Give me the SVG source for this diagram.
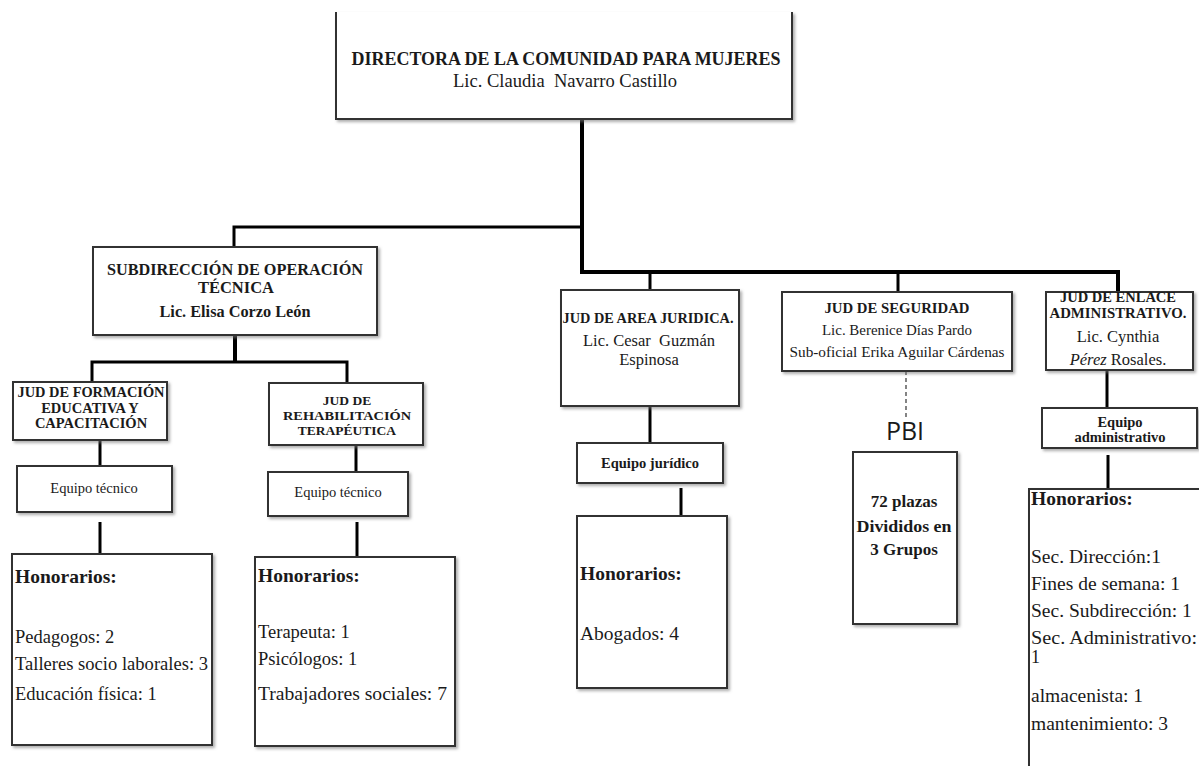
<svg xmlns="http://www.w3.org/2000/svg" width="1199" height="766" viewBox="0 0 1199 766">
<defs>
<filter id="sh" x="-10%" y="-10%" width="130%" height="130%">
<feDropShadow dx="2" dy="2" stdDeviation="1.5" flood-color="#777" flood-opacity="0.6"/>
</filter>
<style>
.box{fill:#fff;stroke:#333;stroke-width:2;filter:url(#sh)}
.c{stroke:#000;fill:none;stroke-width:3}
.ct{stroke:#000;fill:none;stroke-width:4}
.dash{stroke:#333;fill:none;stroke-width:1.2;stroke-dasharray:4 3}
text{font-family:"Liberation Serif","Times New Roman",serif;fill:#1a1a1a}
.b{font-weight:bold}
.m{text-anchor:middle}
</style>
</defs>
<rect width="1199" height="766" fill="#fff"/>

<g id="connectors">
<path class="ct" d="M582,119 V272 H1118 V292"/>
<path class="c" d="M582,227 H234 V247"/>
<path class="c" d="M650,272 V290"/>
<path class="c" d="M898,272 V292"/>
<path class="ct" d="M235,335 V362"/>
<path class="c" d="M92,382 V362 H347 V383"/>
<path class="c" d="M100,440 V466"/>
<path class="c" d="M100,522 V565"/>
<path class="c" d="M356,445 V472"/>
<path class="c" d="M357,522 V568"/>
<path class="c" d="M650,406 V443"/>
<path class="c" d="M681,488 V523"/>
<path class="dash" d="M906,371 V417"/>
<path class="c" d="M1107,365 V408"/>
<path class="c" d="M1108,455 V490"/>
</g>

<g id="directora">
<path d="M336,12 V119 H792 V12" fill="#fff" stroke="#333" stroke-width="2" filter="url(#sh)"/>
<text x="566" y="65" class="b m" font-size="19" textLength="429" lengthAdjust="spacingAndGlyphs">DIRECTORA DE LA COMUNIDAD PARA MUJERES</text>
<text x="565" y="87" class="m" font-size="18" xml:space="preserve" textLength="224" lengthAdjust="spacingAndGlyphs">Lic. Claudia  Navarro Castillo</text>
</g>

<g id="subdireccion">
<rect class="box" x="93" y="247" width="284" height="88"/>
<text x="235" y="275" class="b m" font-size="16.5" textLength="256" lengthAdjust="spacingAndGlyphs">SUBDIRECCIÓN DE OPERACIÓN</text>
<text x="236" y="293" class="b m" font-size="16.5">TÉCNICA</text>
<text x="235" y="317" class="b m" font-size="17" textLength="151" lengthAdjust="spacingAndGlyphs">Lic. Elisa Corzo León</text>
</g>

<g id="jud-formacion">
<rect class="box" x="13" y="382" width="154" height="58"/>
<text x="91" y="397" class="b m" font-size="14.5" textLength="147" lengthAdjust="spacingAndGlyphs">JUD DE FORMACIÓN</text>
<text x="90" y="413" class="b m" font-size="14.5">EDUCATIVA Y</text>
<text x="91" y="428" class="b m" font-size="14.5">CAPACITACIÓN</text>
</g>

<g id="equipo-tecnico-1">
<rect class="box" x="17" y="466" width="155" height="46"/>
<text x="94" y="493" class="m" font-size="14.5">Equipo técnico</text>
</g>

<g id="honorarios-1">
<rect class="box" x="12" y="554" width="200" height="191"/>
<text x="15" y="583" class="b" font-size="19.5">Honorarios:</text>
<text x="15" y="643" font-size="18.5">Pedagogos: 2</text>
<text x="15" y="670" font-size="18.5" textLength="193" lengthAdjust="spacingAndGlyphs">Talleres socio laborales: 3</text>
<text x="15" y="700" font-size="18.5">Educación física: 1</text>
</g>

<g id="jud-rehabilitacion">
<rect class="box" x="269" y="383" width="154" height="62"/>
<text x="347" y="405" class="b m" font-size="13.5">JUD DE</text>
<text x="347" y="420" class="b m" font-size="13.5" textLength="128" lengthAdjust="spacingAndGlyphs">REHABILITACIÓN</text>
<text x="347" y="435" class="b m" font-size="13.5">TERAPÉUTICA</text>
</g>

<g id="equipo-tecnico-2">
<rect class="box" x="268" y="472" width="140" height="44"/>
<text x="338" y="497" class="m" font-size="14.5">Equipo técnico</text>
</g>

<g id="honorarios-2">
<rect class="box" x="255" y="557" width="200" height="189"/>
<text x="258" y="582" class="b" font-size="19.5">Honorarios:</text>
<text x="258" y="638" font-size="18.5">Terapeuta: 1</text>
<text x="258" y="665" font-size="18.5">Psicólogos: 1</text>
<text x="258" y="700" font-size="18.5" textLength="189" lengthAdjust="spacingAndGlyphs">Trabajadores sociales: 7</text>
</g>

<g id="jud-juridica">
<rect class="box" x="561" y="290" width="178" height="116"/>
<text x="648" y="323" class="b m" font-size="14.5" textLength="171" lengthAdjust="spacingAndGlyphs">JUD DE AREA JURIDICA.</text>
<text x="649" y="346" class="m" font-size="16.5" xml:space="preserve">Lic. Cesar  Guzmán</text>
<text x="649" y="365" class="m" font-size="16.5">Espinosa</text>
</g>

<g id="equipo-juridico">
<rect class="box" x="577" y="443" width="146" height="40"/>
<text x="650" y="468" class="b m" font-size="14.5">Equipo jurídico</text>
</g>

<g id="honorarios-3">
<rect class="box" x="577" y="516" width="150" height="172"/>
<text x="580" y="580" class="b" font-size="19.5">Honorarios:</text>
<text x="580" y="640" font-size="19.5">Abogados: 4</text>
</g>

<g id="jud-seguridad">
<rect class="box" x="782" y="292" width="230" height="79"/>
<text x="897" y="313" class="b m" font-size="15" textLength="145" lengthAdjust="spacingAndGlyphs">JUD DE SEGURIDAD</text>
<text x="897" y="335" class="m" font-size="15.5" textLength="150" lengthAdjust="spacingAndGlyphs">Lic. Berenice Días Pardo</text>
<text x="897" y="357" class="m" font-size="15.5" textLength="215" lengthAdjust="spacingAndGlyphs">Sub-oficial Erika Aguilar Cárdenas</text>
</g>

<g id="pbi">
<text x="905" y="440" class="m" font-size="25" style="font-family:'Open Sans','Liberation Sans',sans-serif">PBI</text>
<rect class="box" x="853" y="452" width="104" height="172"/>
<text x="904" y="507" class="b m" font-size="17">72 plazas</text>
<text x="904" y="532" class="b m" font-size="17" textLength="95" lengthAdjust="spacingAndGlyphs">Divididos en</text>
<text x="904" y="555" class="b m" font-size="17">3 Grupos</text>
</g>

<g id="jud-enlace">
<rect class="box" x="1046" y="292" width="147" height="78"/>
<text x="1118" y="302" class="b m" font-size="14.5">JUD DE ENLACE</text>
<text x="1118" y="318" class="b m" font-size="14.5" textLength="137" lengthAdjust="spacingAndGlyphs">ADMINISTRATIVO.</text>
<text x="1118" y="342" class="m" font-size="16.5">Lic. Cynthia</text>
<text x="1118" y="365" class="m" font-size="16.5"><tspan font-style="italic">Pérez</tspan> Rosales.</text>
</g>

<g id="equipo-administrativo">
<rect class="box" x="1042" y="408" width="155" height="40"/>
<text x="1120" y="427" class="b m" font-size="14.5">Equipo</text>
<text x="1120" y="442" class="b m" font-size="14.5">administrativo</text>
</g>

<g id="honorarios-4">
<rect class="box" x="1029" y="489" width="200" height="300"/>
<text x="1031" y="505" class="b" font-size="19.5">Honorarios:</text>
<text x="1031" y="563" font-size="19.5">Sec. Dirección:1</text>
<text x="1031" y="590" font-size="19.5">Fines de semana: 1</text>
<text x="1031" y="617" font-size="19.5">Sec. Subdirección: 1</text>
<text x="1031" y="644" font-size="19" textLength="166" lengthAdjust="spacingAndGlyphs">Sec. Administrativo:</text>
<text x="1031" y="663" font-size="18">1</text>
<text x="1031" y="702" font-size="19.5">almacenista: 1</text>
<text x="1031" y="730" font-size="19.5">mantenimiento: 3</text>
</g>
</svg>
